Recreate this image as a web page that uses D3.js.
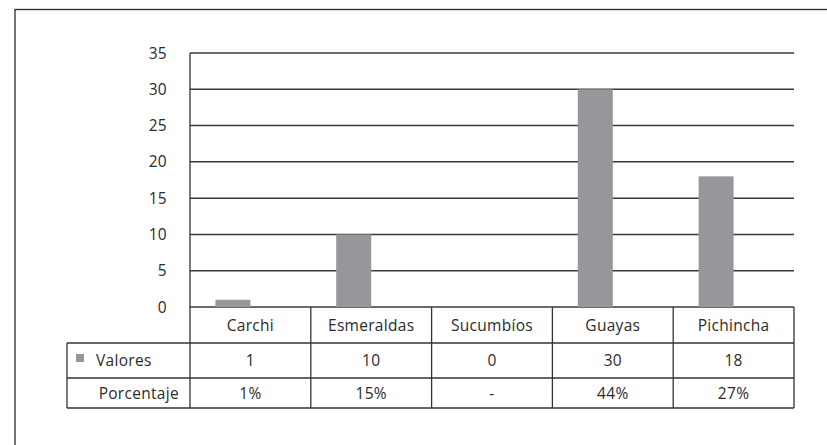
<!DOCTYPE html>
<html><head><meta charset="utf-8">
<script src="https://cdn.jsdelivr.net/npm/d3@7"></script>
<style>body{margin:0;background:#fff}svg{display:block}text{font-family:"Open Sans",sans-serif;fill:#2b2b2b;letter-spacing:0.3px}</style>
</head><body>
<svg id="c" width="827" height="445"></svg>
<script>
const categories = ["Carchi","Esmeraldas","Sucumbíos","Guayas","Pichincha"];
const valores = [1,10,0,30,18];
const porcentaje = ["1%","15%","0%","44%","27%"];
const porcentajeLabels = ["1%","15%","-","44%","27%"];
const yTicks = [0,5,10,15,20,25,30,35];
const seriesNames = ["Valores","Porcentaje"];

(function(){
const svg = d3.select("#c");
const pLeft = 190, pRight = 794, pTop = 53, base = 307;
const rowH = [307, 343, 378, 408];
const tableLeft = 67;
const fs = 15.5;

svg.append("rect").attr("x",15).attr("y",9.5).attr("width",900).attr("height",500)
  .attr("fill","none").attr("stroke","#2a2a2a").attr("stroke-width",1.3);

const x = d3.scaleBand().domain(categories).range([pLeft,pRight]).padding(0);
const sub = d3.scaleBand().domain(seriesNames).range([0,70]);
const y = d3.scaleLinear().domain([0,35]).range([base,pTop]);

svg.append("g").selectAll("line").data(yTicks).join("line")
  .attr("x1",pLeft).attr("x2",pRight).attr("y1",d=>y(d)).attr("y2",d=>y(d))
  .attr("stroke","#3a3a3a").attr("stroke-width",1.5);

svg.append("g").selectAll("text").data(yTicks).join("text")
  .attr("x",167).attr("y",d=>y(d)+5.5).attr("text-anchor","end")
  .attr("font-size",fs).text(d=>d);

svg.append("g").selectAll("rect").data(categories).join("rect")
  .attr("x",(d)=>x(d)+x.bandwidth()/2-35+sub("Valores"))
  .attr("width",sub.bandwidth())
  .attr("y",(d,i)=>y(valores[i]))
  .attr("height",(d,i)=>base-y(valores[i]))
  .attr("fill","#97979b");

const lc = "#333", lw = 1.3;
const g = svg.append("g");
g.append("line").attr("x1",pLeft).attr("x2",pLeft).attr("y1",pTop).attr("y2",rowH[3]).attr("stroke",lc).attr("stroke-width",lw);
x.domain().forEach((c,i)=>{
  const xx = x(c)+x.bandwidth();
  g.append("line").attr("x1",xx).attr("x2",xx).attr("y1",base).attr("y2",rowH[3]).attr("stroke",lc).attr("stroke-width",lw);
});
[rowH[1],rowH[2],rowH[3]].forEach(yy=>{
  g.append("line").attr("x1",tableLeft).attr("x2",pRight).attr("y1",yy).attr("y2",yy).attr("stroke",lc).attr("stroke-width",lw);
});
g.append("line").attr("x1",tableLeft).attr("x2",tableLeft).attr("y1",rowH[1]).attr("y2",rowH[3]).attr("stroke",lc).attr("stroke-width",lw);

const off = 5.8;
svg.append("g").selectAll("text").data(categories).join("text")
  .attr("x",d=>x(d)+x.bandwidth()/2).attr("y",(rowH[0]+rowH[1])/2+off)
  .attr("text-anchor","middle").attr("font-size",fs).text(d=>d);
svg.append("g").selectAll("text").data(valores).join("text")
  .attr("x",(d,i)=>x(categories[i])+x.bandwidth()/2).attr("y",(rowH[1]+rowH[2])/2+off)
  .attr("text-anchor","middle").attr("font-size",fs).text(d=>d);
svg.append("g").selectAll("text").data(porcentajeLabels).join("text")
  .attr("x",(d,i)=>x(categories[i])+x.bandwidth()/2).attr("y",(rowH[2]+rowH[3])/2+off)
  .attr("text-anchor","middle").attr("font-size",fs).text(d=>d);

svg.append("rect").attr("x",76).attr("y",354).attr("width",8).attr("height",8).attr("fill","#97979b");
svg.append("text").attr("x",96).attr("y",(rowH[1]+rowH[2])/2+off).attr("font-size",fs).text(seriesNames[0]);
svg.append("text").attr("x",179).attr("y",(rowH[2]+rowH[3])/2+off).attr("text-anchor","end").attr("font-size",fs).text(seriesNames[1]);
})();
</script>
</body></html>
